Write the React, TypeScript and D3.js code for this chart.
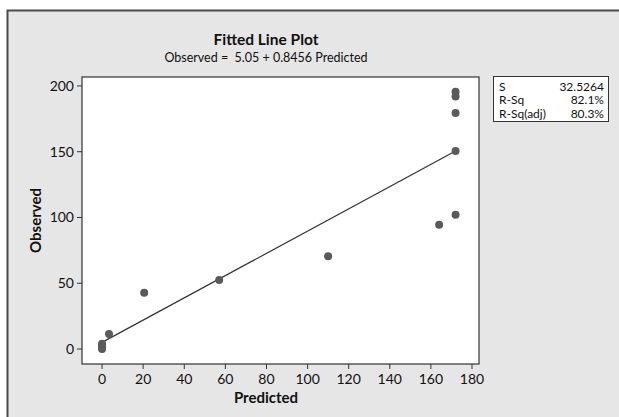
import React from "react";
import * as d3 from "d3";

const predicted = [0, 0, 0, 3.4, 20.5, 57, 110, 164, 172, 172, 172, 172, 172];
const observed = [0, 2, 4, 11.5, 42.7, 52.5, 70.5, 94.5, 102, 150.5, 179.5, 192, 195.5];
const xTicks = [0, 20, 40, 60, 80, 100, 120, 140, 160, 180];
const yTicks = [0, 50, 100, 150, 200];
const intercept = 5.05;
const slope = 0.8456;
const statLabels = ["S", "R-Sq", "R-Sq(adj)"];
const statValues = ["32.5264", "82.1%", "80.3%"];

const W = 619;
const H = 417;
const FONT = "Lato, 'Open Sans', sans-serif";

export default function App() {
  const left = 82, right = 479, top = 77, bottom = 364;
  const x = d3.scaleLinear().domain([-9.75, 183.4]).range([left, right]);
  const y = d3.scaleLinear().domain([-11.4, 206.8]).range([bottom, top]);
  const x0 = d3.min(predicted)!;
  const x1 = d3.max(predicted)!;
  const line = d3.line<number>().x((d) => x(d)).y((d) => y(intercept + slope * d));
  return (
    <div style={{ position: "absolute", left: 0, top: 0 }}>
      <svg width={W} height={H} style={{ display: "block" }}>
        <rect x={0} y={0} width={W} height={H} fill="#ffffff" />
        <rect x={7.5} y={10.5} width={W + 20} height={H + 20} fill="#e6e6e6" stroke="#4a4a4a" strokeWidth={2} />
        <text x={266} y={45} textAnchor="middle" fontFamily={FONT} fontWeight="bold" fontSize={15.5} fill="#111">
          Fitted Line Plot
        </text>
        <text x={266} y={62} textAnchor="middle" fontFamily={FONT} fontSize={12.5} fill="#111" style={{ whiteSpace: "pre" }}>
          {"Observed =  5.05 + 0.8456 Predicted"}
        </text>
        <rect x={left} y={top} width={right - left} height={bottom - top} fill="#ffffff" stroke="#333" strokeWidth={1.2} />
        {xTicks.map((t) => (
          <g key={"x" + t}>
            <line x1={x(t)} x2={x(t)} y1={bottom} y2={bottom + 5} stroke="#333" />
            <text x={x(t)} y={bottom + 20} textAnchor="middle" fontFamily={FONT} fontSize={14} fill="#111">
              {t}
            </text>
          </g>
        ))}
        {yTicks.map((t) => (
          <g key={"y" + t}>
            <line x1={left - 5} x2={left} y1={y(t)} y2={y(t)} stroke="#333" />
            <text x={left - 8} y={y(t) + 5} textAnchor="end" fontFamily={FONT} fontSize={14} fill="#111">
              {t}
            </text>
          </g>
        ))}
        <text x={266} y={403} textAnchor="middle" fontFamily={FONT} fontWeight="bold" fontSize={15} fill="#111">
          Predicted
        </text>
        <text
          transform={`translate(41, ${(top + bottom) / 2}) rotate(-90)`}
          textAnchor="middle"
          fontFamily={FONT}
          fontWeight="bold"
          fontSize={15}
          fill="#111"
        >
          Observed
        </text>
        <path d={line([x0, x1]) ?? ""} fill="none" stroke="#333" strokeWidth={1.2} />
        {predicted.map((p, i) => (
          <circle key={i} cx={x(p)} cy={y(observed[i])} r={4} fill="#5a5a5a" />
        ))}
        <rect x={493.5} y={76.5} width={115} height={45} fill="#ffffff" stroke="#333" strokeWidth={1} />
        {statLabels.map((s, i) => (
          <g key={s}>
            <text x={499} y={90.5 + i * 13.5} fontFamily={FONT} fontSize={12} fill="#111">
              {s}
            </text>
            <text x={604} y={90.5 + i * 13.5} textAnchor="end" fontFamily={FONT} fontSize={12} fill="#111">
              {statValues[i]}
            </text>
          </g>
        ))}
      </svg>
    </div>
  );
}
